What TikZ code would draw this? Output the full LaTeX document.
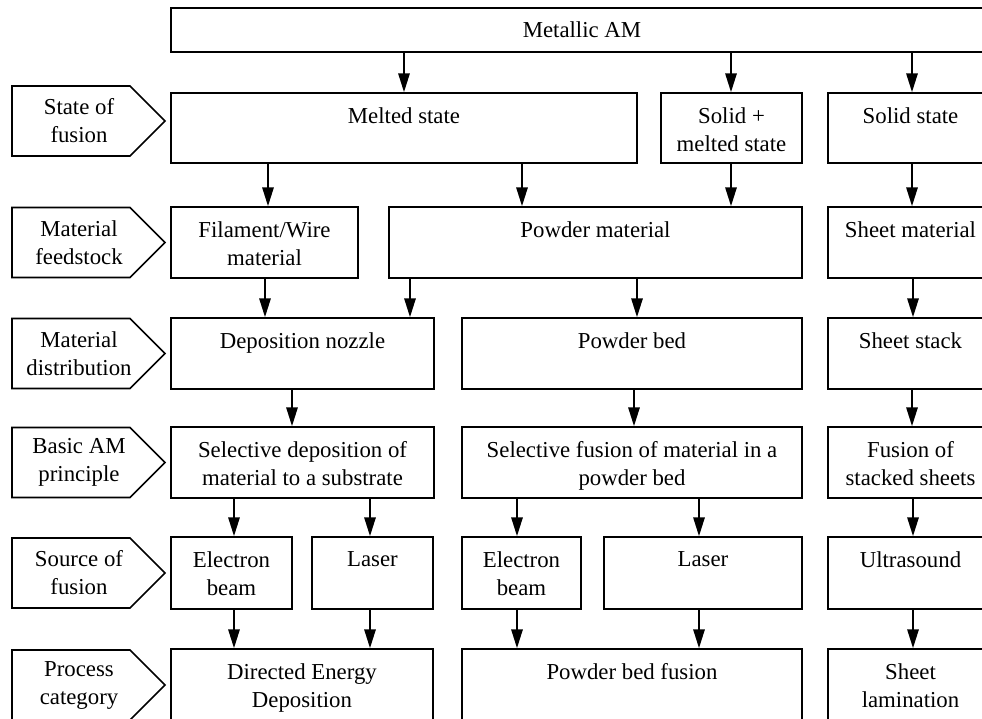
\documentclass[tikz,border=0pt]{standalone}
\usepackage{fontspec}
\setmainfont{Liberation Serif}
\usetikzlibrary{arrows.meta,fit,shapes.symbols}

\begin{document}
\begin{tikzpicture}[x=0.75pt,y=-0.75pt,font=\fontsize{17.1}{21}\selectfont,
  box/.style={draw,line width=1.3pt,inner sep=0pt},
  txt/.style={anchor=north,align=center,inner sep=0pt,yshift=-11.5pt},
  mid/.style={anchor=center,align=center,inner sep=0pt},
  lab/.style={draw,line width=1.3pt,signal,signal to=east,signal pointer angle=90,
    minimum width=114.75pt,minimum height=52.5pt,inner sep=0pt},
  labtxt/.style={anchor=center,align=center,inner sep=0pt,xshift=6pt},
  arr/.style={line width=1.3pt,-{Triangle[length=14pt,width=8.5pt]}}]
\useasboundingbox (0,0) rectangle (982,718);
\clip (0,0) rectangle (982,718);

% row labels
\path (71,121) node[lab,label={[labtxt]center:State of\\fusion}](StateOfFusion){}
  (71,242.5) node[lab,label={[labtxt]center:Material\\feedstock}](MaterialFeedstock){}
  (71,353.5) node[lab,label={[labtxt]center:Material\\distribution}](MaterialDistribution){}
  (71,462.5) node[lab,label={[labtxt]center:Basic AM\\principle}](BasicPrinciple){}
  (71,573) node[lab,label={[labtxt]center:Source of\\fusion}](SourceOfFusion){}
  (71,685) node[lab,label={[labtxt]center:Process\\category}](ProcessCategory){};

% boxes
\node[box,fit={(171,8) (993,52)},label={[mid]center:Metallic AM}] (MetallicAM) {};

\node[box,fit={(171,93) (637,163)},label={[txt]north:Melted state}] (Melted) {};
\node[box,fit={(661,93) (802,163)},label={[txt]north:Solid +\\melted state}] (SolidMelted) {};
\node[box,fit={(828,93) (993,163)},label={[txt]north:Solid state}] (Solid) {};

\node[box,fit={(171,207) (358,278)},label={[txt]north:Filament/Wire\\material}] (Wire) {};
\node[box,fit={(389,207) (802,278)},label={[txt]north:Powder material}] (Powder) {};
\node[box,fit={(828,207) (993,278)},label={[txt]north:Sheet material}] (Sheet) {};

\node[box,fit={(171,318) (434,389)},label={[txt]north:Deposition nozzle}] (Nozzle) {};
\node[box,fit={(462,318) (802,389)},label={[txt]north:Powder bed}] (PowderBed) {};
\node[box,fit={(828,318) (993,389)},label={[txt]north:Sheet stack}] (SheetStack) {};

\node[box,fit={(171,427) (434,498)},label={[txt]north:Selective deposition of\\material to a substrate}] (DepositionPrinciple) {};
\node[box,fit={(462,427) (802,498)},label={[txt]north:Selective fusion of material in a\\powder bed}] (FusionPrinciple) {};
\node[box,fit={(828,427) (993,498)},label={[txt]north:Fusion of\\stacked sheets}] (StackPrinciple) {};

\node[box,fit={(171,537) (292,609)},label={[txt]north:Electron\\beam}] (BeamDED) {};
\node[box,fit={(312,537) (433,609)},label={[txt]north:Laser}] (LaserDED) {};
\node[box,fit={(462,537) (581,609)},label={[txt]north:Electron\\beam}] (BeamPBF) {};
\node[box,fit={(604,537) (802,609)},label={[txt]north:Laser}] (LaserPBF) {};
\node[box,fit={(828,537) (993,609)},label={[txt]north:Ultrasound}] (Ultrasound) {};

\node[box,fit={(171,649) (433,721)},label={[txt]north:Directed Energy\\Deposition}] (DED) {};
\node[box,fit={(462,649) (802,721)},label={[txt]north:Powder bed fusion}] (PBF) {};
\node[box,fit={(828,649) (993,721)},label={[txt]north:Sheet\\lamination}] (Lamination) {};

% arrows
\draw[arr] (MetallicAM.south -| 404,0) -- (Melted.north -| 404,0);
\draw[arr] (MetallicAM.south -| 731,0) -- (SolidMelted.north -| 731,0);
\draw[arr] (MetallicAM.south -| 912,0) -- (Solid.north -| 912,0);

\draw[arr] (Melted.south -| 268,0) -- (Wire.north -| 268,0);
\draw[arr] (Melted.south -| 522,0) -- (Powder.north -| 522,0);
\draw[arr] (SolidMelted.south -| 731,0) -- (Powder.north -| 731,0);
\draw[arr] (Solid.south -| 912,0) -- (Sheet.north -| 912,0);

\draw[arr] (Wire.south -| 265,0) -- (Nozzle.north -| 265,0);
\draw[arr] (Powder.south -| 410,0) -- (Nozzle.north -| 410,0);
\draw[arr] (Powder.south -| 637,0) -- (PowderBed.north -| 637,0);
\draw[arr] (Sheet.south -| 913,0) -- (SheetStack.north -| 913,0);

\draw[arr] (Nozzle.south -| 292,0) -- (DepositionPrinciple.north -| 292,0);
\draw[arr] (PowderBed.south -| 634,0) -- (FusionPrinciple.north -| 634,0);
\draw[arr] (SheetStack.south -| 912,0) -- (StackPrinciple.north -| 912,0);

\draw[arr] (DepositionPrinciple.south -| 234,0) -- (BeamDED.north -| 234,0);
\draw[arr] (DepositionPrinciple.south -| 370,0) -- (LaserDED.north -| 370,0);
\draw[arr] (FusionPrinciple.south -| 517,0) -- (BeamPBF.north -| 517,0);
\draw[arr] (FusionPrinciple.south -| 699,0) -- (LaserPBF.north -| 699,0);
\draw[arr] (StackPrinciple.south -| 913,0) -- (Ultrasound.north -| 913,0);

\draw[arr] (BeamDED.south -| 234,0) -- (DED.north -| 234,0);
\draw[arr] (LaserDED.south -| 370,0) -- (DED.north -| 370,0);
\draw[arr] (BeamPBF.south -| 517,0) -- (PBF.north -| 517,0);
\draw[arr] (LaserPBF.south -| 699,0) -- (PBF.north -| 699,0);
\draw[arr] (Ultrasound.south -| 913,0) -- (Lamination.north -| 913,0);
\end{tikzpicture}
\end{document}
